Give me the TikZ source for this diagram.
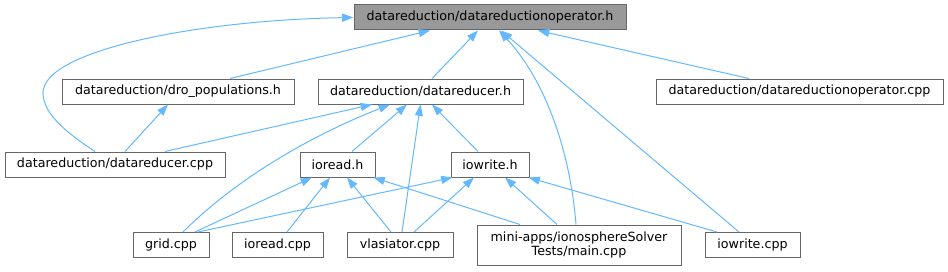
\documentclass[tikz,border=0pt]{standalone}
\usepackage{fontspec}
\setmainfont{DejaVu Sans}
\usetikzlibrary{calc,arrows.meta}
\definecolor{edgecol}{HTML}{63B8FF}
\definecolor{boxborder}{HTML}{666666}
\definecolor{topfill}{HTML}{999999}
\begin{document}
\begin{tikzpicture}[x=0.75pt,y=-0.75pt,
  box/.style={draw=boxborder, line width=0.75pt, fill=white, inner sep=0pt,
    minimum height=18.75pt, font=\fontsize{9.5}{11}\selectfont, align=center},
  edge/.style={draw=edgecol, line width=0.75pt, -{Triangle[length=8.5pt,width=6pt]}}]
\useasboundingbox (0,0) rectangle (948,271);
% nodes
\node[box, fill=topfill, minimum width=204pt] (top) at (490,17.5) {datareduction/datareductionoperator.h};
\node[box, minimum width=174pt] (dro) at (178,91.5) {datareduction/dro\_populations.h};
\node[box, minimum width=153.75pt] (drh) at (420.5,91.5) {datareduction/datareducer.h};
\node[box, minimum width=215.25pt] (dropcpp) at (799.5,91.5) {datareduction/datareductionoperator.cpp};
\node[box, minimum width=165pt] (drcpp) at (115,164.5) {datareduction/datareducer.cpp};
\node[box, minimum width=56.25pt] (ioreadh) at (337.5,164.5) {ioread.h};
\node[box, minimum width=58.5pt] (iowriteh) at (490,164.5) {iowrite.h};
\node[box, minimum width=57pt] (grid) at (171,245) {grid.cpp};
\node[box, minimum width=68.25pt] (ioreadcpp) at (277.5,245) {ioread.cpp};
\node[box, minimum width=79.5pt] (vlas) at (400,245) {vlasiator.cpp};
\node[box, minimum width=153pt, minimum height=30pt] (mini) at (579,245) {mini-apps/ionosphereSolver\\Tests/main.cpp};
\node[box, minimum width=71.25pt] (iowritecpp) at (752.5,245) {iowrite.cpp};
% edges to top
\draw[edge] ($(dro.north)+(52,0)$) -- ($(top.south)+(-60,0)$);
\draw[edge] ($(drcpp.north)+(-20,0)$) .. controls (70,135) and (43,115) .. (43,93)
   .. controls (43,50) and (200,20) .. (top.west);
\draw[edge] ($(drh.north)+(11.5,0)$) -- ($(top.south)+(-12,0)$);
\draw[edge] ($(mini.north)+(-3,0)$) .. controls (570,150) and (545,80) .. ($(top.south)+(9,0)$);
\draw[edge] ($(iowritecpp.north)+(-13.5,0)$) -- ($(top.south)+(11,0)$);
\draw[edge] ($(dropcpp.north)+(-50.5,0)$) -- ($(top.south)+(48,0)$);
% edges to dro and drh
\draw[edge] ($(drcpp.north)+(10,0)$) -- ($(dro.south)+(-10,0)$);
\draw[edge] ($(drcpp.north)+(50,0)$) -- ($(drh.south)+(-48.5,0)$);
\draw[edge] ($(grid.north)+(12,0)$) .. controls (230,185) and (300,140) .. ($(drh.south)+(-30.5,0)$);
\draw[edge] ($(ioreadh.north)+(14.5,0)$) -- ($(drh.south)+(-13.5,0)$);
\draw[edge] ($(vlas.north)+(2,0)$) -- ($(drh.south)+(0,0)$);
\draw[edge] ($(iowriteh.north)+(-12,0)$) -- ($(drh.south)+(11.5,0)$);
% edges to ioread.h
\draw[edge] ($(grid.north)+(24,0)$) -- ($(ioreadh.south)+(-25.5,0)$);
\draw[edge] ($(ioreadcpp.north)+(9.5,0)$) -- ($(ioreadh.south)+(-7.5,0)$);
\draw[edge] ($(vlas.north)+(-9,0)$) -- ($(ioreadh.south)+(9.5,0)$);
\draw[edge] ($(mini.north)+(-59,0)$) -- ($(ioreadh.south east)+(-2,0)$);
% edges to iowrite.h
\draw[edge] ($(grid.north)+(27,0)$) -- ($(iowriteh.south west)+(2,0)$);
\draw[edge] ($(vlas.north)+(14,0)$) -- ($(iowriteh.south)+(-16,0)$);
\draw[edge] ($(mini.north)+(-22,0)$) -- ($(iowriteh.south)+(15,0)$);
\draw[edge] ($(iowritecpp.north)+(-35.5,0)$) -- ($(iowriteh.south east)+(-1,0)$);
\end{tikzpicture}
\end{document}
